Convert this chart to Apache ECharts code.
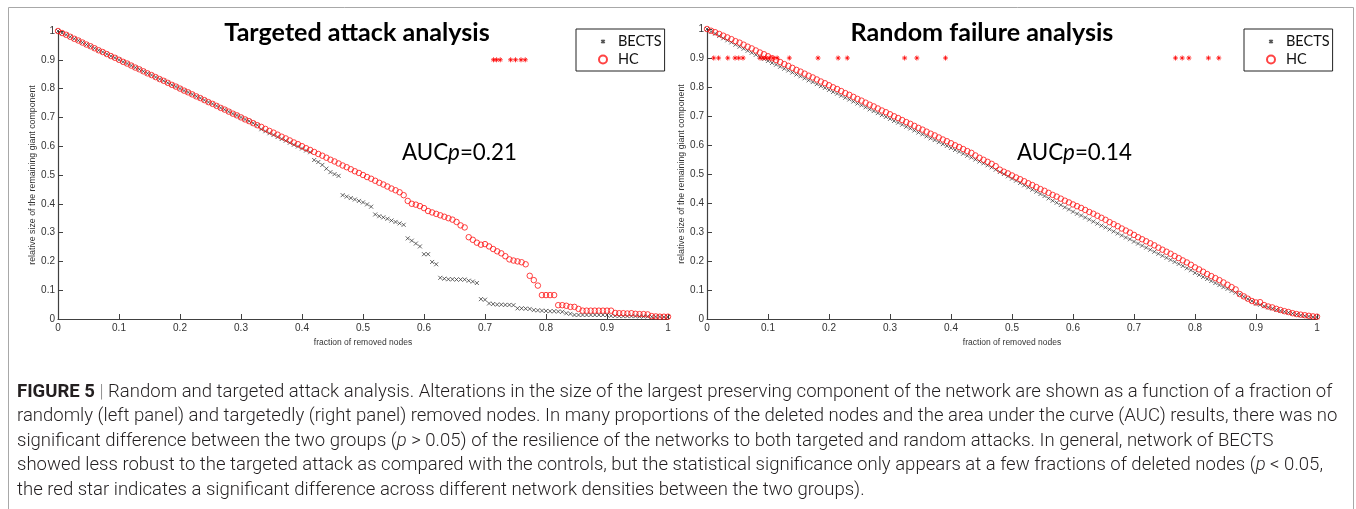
<!DOCTYPE html>
<html>
<head>
<meta charset="utf-8">
<script src="https://cdn.jsdelivr.net/npm/echarts@6/dist/echarts.min.js"></script>
<style>
html, body { margin: 0; padding: 0; background: #fff; }
#main { width: 1356px; height: 509px; }
</style>
</head>
<body>
<div id="main"></div>
<script>
// fraction of removed nodes: point i sits at x = i / STEPS
var STEPS = 150;

var targetedBECTS = [
  1.000,0.993,0.987,0.980,0.973,0.967,0.960,0.953,0.947,0.940,
  0.933,0.927,0.920,0.913,0.907,0.900,0.893,0.887,0.880,0.873,
  0.867,0.860,0.853,0.847,0.840,0.833,0.827,0.820,0.813,0.807,
  0.800,0.793,0.787,0.780,0.773,0.767,0.760,0.753,0.747,0.740,
  0.733,0.727,0.720,0.713,0.707,0.700,0.693,0.687,0.680,0.673,
  0.659,0.652,0.645,0.639,0.632,0.625,0.619,0.612,0.605,0.599,
  0.592,0.585,0.579,0.552,0.545,0.535,0.522,0.510,0.503,0.497,
  0.430,0.425,0.420,0.415,0.410,0.405,0.398,0.390,0.363,0.357,
  0.353,0.348,0.342,0.337,0.332,0.327,0.280,0.272,0.262,0.252,
  0.225,0.225,0.198,0.190,0.143,0.140,0.138,0.138,0.137,0.137,
  0.137,0.133,0.130,0.125,0.069,0.067,0.054,0.052,0.050,0.050,
  0.049,0.049,0.048,0.037,0.037,0.036,0.035,0.031,0.030,0.029,
  0.028,0.027,0.027,0.026,0.025,0.020,0.018,0.014,0.014,0.014,
  0.014,0.014,0.014,0.014,0.014,0.014,0.011,0.011,0.010,0.010,
  0.010,0.010,0.010,0.009,0.009,0.009,0.008,0.008,0.008,0.007,
  0.007
];
var targetedHC = [
  1.000,0.993,0.987,0.980,0.973,0.967,0.960,0.953,0.947,0.940,
  0.933,0.927,0.920,0.913,0.907,0.900,0.893,0.887,0.880,0.873,
  0.867,0.860,0.853,0.847,0.840,0.833,0.827,0.820,0.813,0.807,
  0.800,0.793,0.787,0.780,0.773,0.767,0.760,0.753,0.747,0.740,
  0.733,0.727,0.720,0.713,0.707,0.700,0.693,0.687,0.680,0.673,
  0.667,0.660,0.653,0.647,0.640,0.633,0.627,0.620,0.613,0.607,
  0.600,0.593,0.587,0.580,0.573,0.567,0.560,0.553,0.547,0.540,
  0.533,0.527,0.520,0.513,0.507,0.500,0.493,0.487,0.480,0.473,
  0.467,0.460,0.453,0.447,0.440,0.430,0.410,0.400,0.397,0.392,
  0.385,0.375,0.370,0.365,0.360,0.355,0.350,0.345,0.337,0.325,
  0.318,0.284,0.275,0.265,0.258,0.260,0.252,0.243,0.235,0.228,
  0.218,0.207,0.203,0.200,0.197,0.190,0.150,0.135,0.116,0.083,
  0.083,0.083,0.083,0.048,0.048,0.046,0.042,0.042,0.035,0.029,
  0.029,0.029,0.029,0.029,0.029,0.029,0.029,0.021,0.020,0.020,
  0.019,0.020,0.018,0.017,0.017,0.016,0.010,0.009,0.008,0.008,
  0.008
];
var randomBECTS = [
  1.000,0.991,0.984,0.976,0.968,0.961,0.954,0.946,0.939,0.932,
  0.925,0.918,0.911,0.904,0.897,0.890,0.883,0.877,0.870,0.863,
  0.857,0.850,0.843,0.837,0.830,0.823,0.817,0.810,0.803,0.797,
  0.790,0.783,0.777,0.770,0.763,0.757,0.750,0.743,0.737,0.730,
  0.723,0.717,0.710,0.703,0.697,0.690,0.683,0.677,0.670,0.663,
  0.657,0.650,0.643,0.637,0.630,0.623,0.617,0.610,0.603,0.597,
  0.590,0.583,0.577,0.570,0.563,0.557,0.550,0.543,0.537,0.530,
  0.523,0.515,0.507,0.500,0.492,0.484,0.477,0.469,0.461,0.454,
  0.446,0.439,0.431,0.424,0.416,0.408,0.401,0.393,0.385,0.378,
  0.370,0.363,0.357,0.350,0.343,0.336,0.329,0.322,0.316,0.309,
  0.302,0.295,0.288,0.281,0.275,0.267,0.260,0.253,0.246,0.239,
  0.232,0.225,0.218,0.211,0.204,0.197,0.190,0.183,0.175,0.168,
  0.159,0.152,0.145,0.138,0.131,0.124,0.117,0.110,0.104,0.097,
  0.091,0.085,0.077,0.069,0.062,0.053,0.049,0.044,0.040,0.036,
  0.032,0.028,0.025,0.022,0.019,0.016,0.013,0.011,0.009,0.007,
  0.006
];
var randomHC = [
  1.000,0.994,0.989,0.983,0.977,0.971,0.965,0.958,0.953,0.946,
  0.939,0.933,0.926,0.919,0.913,0.906,0.899,0.893,0.886,0.879,
  0.873,0.866,0.859,0.853,0.846,0.839,0.833,0.826,0.819,0.813,
  0.806,0.799,0.793,0.786,0.779,0.773,0.766,0.759,0.753,0.746,
  0.739,0.733,0.726,0.719,0.713,0.706,0.699,0.693,0.686,0.679,
  0.673,0.666,0.659,0.653,0.646,0.639,0.633,0.626,0.619,0.613,
  0.606,0.599,0.593,0.586,0.579,0.573,0.564,0.556,0.549,0.542,
  0.535,0.527,0.515,0.508,0.502,0.495,0.488,0.482,0.475,0.468,
  0.462,0.455,0.448,0.442,0.435,0.428,0.422,0.415,0.408,0.402,
  0.395,0.389,0.383,0.376,0.369,0.363,0.356,0.349,0.342,0.334,
  0.327,0.320,0.312,0.305,0.298,0.290,0.282,0.275,0.268,0.261,
  0.254,0.246,0.239,0.232,0.225,0.217,0.210,0.202,0.195,0.187,
  0.178,0.171,0.163,0.155,0.148,0.141,0.134,0.126,0.118,0.110,
  0.102,0.086,0.078,0.070,0.062,0.057,0.058,0.048,0.043,0.040,
  0.035,0.031,0.027,0.024,0.020,0.017,0.015,0.013,0.011,0.009,
  0.008
];

// red stars: fractions with a significant group difference (drawn at 0.9)
var targetedStars = [0.714, 0.719, 0.725, 0.742, 0.750, 0.759, 0.766];
var randomStars = [0.011, 0.019, 0.034, 0.046, 0.052, 0.059, 0.087, 0.092, 0.097,
  0.102, 0.108, 0.115, 0.135, 0.182, 0.215, 0.230, 0.324, 0.344, 0.391,
  0.768, 0.779, 0.790, 0.822, 0.839];
var STAR_LEVEL = 0.9;

var panelTitles = ['Targeted attack analysis', 'Random failure analysis'];
var aucValues = ['0.21', '0.14'];

var captionLines = [
  [['b', 'FIGURE 5'], ['s', ' | '], ['n', 'Random and targeted attack analysis. Alterations in the size of the largest preserving component of the network are shown as a function of a fraction of']],
  [['n', 'randomly (left panel) and targetedly (right panel) removed nodes. In many proportions of the deleted nodes and the area under the curve (AUC) results, there was no']],
  [['n', 'significant difference between the two groups ('], ['i', 'p'], ['n', ' > 0.05) of the resilience of the networks to both targeted and random attacks. In general, network of BECTS']],
  [['n', 'showed less robust to the targeted attack as compared with the controls, but the statistical significance only appears at a few fractions of deleted nodes ('], ['i', 'p'], ['n', ' < 0.05,']],
  [['n', 'the red star indicates a significant difference across different network densities between the two groups).']]
];

function pts(arr) {
  return arr.map(function (v, i) { return [i / STEPS, v]; });
}
function starPts(arr) {
  return arr.map(function (x) { return [x, STAR_LEVEL]; });
}

// font size that makes a text run reach a given width
var ctx = document.createElement('canvas').getContext('2d');
function measure(font, text) { ctx.font = font; return ctx.measureText(text).width; }

var CAP_FAMILY = 'Roboto, "Liberation Sans", sans-serif';
var capFonts = {
  b: function (s) { return 'bold ' + s + 'px ' + CAP_FAMILY; },
  s: function (s) { return '300 ' + s + 'px ' + CAP_FAMILY; },
  n: function (s) { return '300 ' + s + 'px ' + CAP_FAMILY; },
  i: function (s) { return 'italic 300 ' + s + 'px ' + CAP_FAMILY; }
};
var w100 = 0;
captionLines[0].forEach(function (p) { w100 += measure(capFonts[p[0]](100), p[1]); });
var capSize = 100 * 1316 / w100;

var TITLE_FAMILY = 'Lato, "Open Sans", sans-serif';
var titleSize = 100 * 265 / measure('bold 100px ' + TITLE_FAMILY, panelTitles[0]);
var aucSize = 100 * 115 / (measure('100px ' + TITLE_FAMILY, 'AUC=0.21') + measure('italic 100px ' + TITLE_FAMILY, 'p'));

var chart = echarts.init(document.getElementById('main'));

var axisColor = '#404040';
var grids = [
  { left: 58, top: 31, width: 610, height: 288 },
  { left: 707, top: 29, width: 610, height: 290 }
];

function xAxis(g) {
  return {
    type: 'value', gridIndex: g, min: 0, max: 1, interval: 0.1,
    name: 'fraction of removed nodes', nameLocation: 'middle', nameGap: 17,
    nameTextStyle: { fontSize: 8.5, color: '#333', fontFamily: 'Liberation Sans' },
    axisLine: { lineStyle: { color: axisColor, width: 1.2 } },
    axisTick: { inside: true, length: 5, lineStyle: { color: axisColor } },
    axisLabel: { fontSize: 10, color: '#333', fontFamily: 'Liberation Sans', margin: 4 },
    splitLine: { show: false }
  };
}
function yAxis(g) {
  return {
    type: 'value', gridIndex: g, min: 0, max: 1, interval: 0.1,
    name: 'relative size of the remaining giant component', nameLocation: 'middle', nameGap: 20,
    nameTextStyle: { fontSize: 8.8, color: '#333', fontFamily: 'Liberation Sans' },
    axisLine: { show: true, lineStyle: { color: axisColor, width: 1.2 } },
    axisTick: { show: true, inside: true, length: 5, lineStyle: { color: axisColor } },
    axisLabel: { fontSize: 10, color: '#333', fontFamily: 'Liberation Sans', margin: 3 },
    splitLine: { show: false }
  };
}

var crossPath = 'path://M0,0L10,10M10,0L0,10';
var starPath = 'path://M5,0L5,10M0,5L10,5M1.6,1.6L8.4,8.4M8.4,1.6L1.6,8.4';
// legend icons: same shapes, with empty margin so the cross stays small
var legendCross = 'path://M0,0M10,10M3,3L7,7M7,3L3,7';

function panelSeries(g, becs, hc, stars) {
  return [
    { name: 'BECTS', type: 'scatter', xAxisIndex: g, yAxisIndex: g, data: pts(becs),
      symbol: crossPath, symbolSize: 4,
      itemStyle: { color: 'rgba(0,0,0,0)', borderColor: '#2a2a2a', borderWidth: 0.9 } },
    { name: 'HC', type: 'scatter', xAxisIndex: g, yAxisIndex: g, data: pts(hc),
      symbol: 'circle', symbolSize: 5.5,
      itemStyle: { color: 'rgba(255,255,255,0)', borderColor: '#ff1414', borderWidth: 1 } },
    { name: 'significant', type: 'scatter', xAxisIndex: g, yAxisIndex: g, data: starPts(stars),
      symbol: starPath, symbolSize: 5,
      itemStyle: { color: 'rgba(0,0,0,0)', borderColor: '#ff0000', borderWidth: 1 } }
  ];
}

function legendAt(left) {
  return {
    data: [{ name: 'BECTS', icon: legendCross }, { name: 'HC' }],
    orient: 'vertical', left: left, top: 29,
    padding: [5, 3, 4, 22], itemGap: 3, itemWidth: 8, itemHeight: 8,
    borderColor: '#222', borderWidth: 1, backgroundColor: '#fff', selectedMode: false,
    textStyle: { fontFamily: TITLE_FAMILY, fontSize: 14.5, color: '#111', padding: [0, 0, 0, 6] }
  };
}

var graphics = [
  { type: 'rect', shape: { x: 8.5, y: 7.5, width: 1345, height: 560 }, silent: true,
    style: { fill: 'none', stroke: '#a8a8a8', lineWidth: 1 } }
];
var titleX = [357, 982];
var aucX = [402, 1017];
[0, 1].forEach(function (g) {
  graphics.push({ type: 'text', x: titleX[g], y: 33, silent: true,
    style: { text: panelTitles[g], font: 'bold ' + titleSize.toFixed(1) + 'px ' + TITLE_FAMILY,
      fill: '#000', textAlign: 'center', textVerticalAlign: 'middle' } });
  graphics.push({ type: 'text', x: aucX[g], y: 153, silent: true,
    style: { text: '{a|AUC}{i|p}{a|=' + aucValues[g] + '}', textAlign: 'left', textVerticalAlign: 'middle',
      rich: {
        a: { fontFamily: TITLE_FAMILY, fontSize: aucSize, fill: '#000' },
        i: { fontFamily: TITLE_FAMILY, fontSize: aucSize, fontStyle: 'italic', fill: '#000' }
      } } });
});
var capRich = {
  b: { fontFamily: CAP_FAMILY, fontSize: capSize, fontWeight: 'bold', fill: '#231f20' },
  s: { fontFamily: CAP_FAMILY, fontSize: capSize, fontWeight: 300, fill: '#888' },
  n: { fontFamily: CAP_FAMILY, fontSize: capSize, fontWeight: 300, fill: '#231f20' },
  i: { fontFamily: CAP_FAMILY, fontSize: capSize, fontWeight: 300, fontStyle: 'italic', fill: '#231f20' }
};
captionLines.forEach(function (line, k) {
  var txt = line.map(function (p) { return '{' + p[0] + '|' + p[1] + '}'; }).join('');
  graphics.push({ type: 'text', x: 17, y: 392 + k * 24.5, silent: true,
    style: { text: txt, rich: capRich, textAlign: 'left', textVerticalAlign: 'middle' } });
});

chart.setOption({
  animation: false,
  backgroundColor: '#fff',
  grid: grids,
  xAxis: [xAxis(0), xAxis(1)],
  yAxis: [yAxis(0), yAxis(1)],
  legend: [legendAt(576), legendAt(1244)],
  series: panelSeries(0, targetedBECTS, targetedHC, targetedStars)
    .concat(panelSeries(1, randomBECTS, randomHC, randomStars)),
  graphic: graphics
});
</script>
</body>
</html>
